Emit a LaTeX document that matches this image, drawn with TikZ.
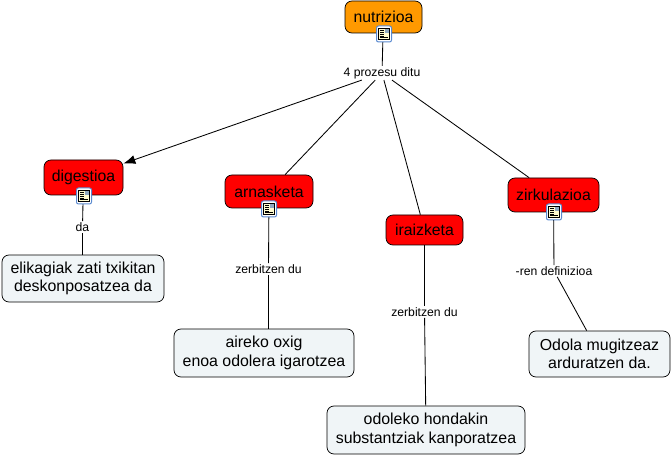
\documentclass[tikz,border=0pt]{standalone}
\usepackage{fontspec}
\setmainfont{Liberation Sans}
\usepackage{tikz}
\usetikzlibrary{arrows.meta,positioning}

\tikzset{
    concept/.style={draw=black,rounded corners=7pt,line width=0.7pt,align=center,
                    font=\fontsize{15.8}{18}\selectfont,inner sep=0pt},
    topconcept/.style={concept,fill=orange1},
    redconcept/.style={concept,fill=red1},
    textbox/.style={concept,fill=pale1,font=\fontsize{15.9}{18.5}\selectfont},
    linkword/.style={fill=white,font=\fontsize{12.2}{14}\selectfont,inner sep=1.2pt},
    link/.style={draw=black,line width=0.85pt},
    docicon/.pic={
        \draw[draw=blue1,fill=white,rounded corners=2pt,line width=1pt] (-7.5,-8) rectangle (7.5,8);
        \draw[fill=yellow1,line width=0.9pt] (-5.5,-5.5) rectangle (5.5,5.5);
        \fill[blue2] (0.5,-5) rectangle (5,-0.5);
        \foreach \y in {-3.5,-1.5,0.5,2.5}
            \draw[line width=0.6pt] (-4,\y) -- (0,\y);
        \draw[line width=0.6pt] (-4,3.8) -- (4,3.8);
    }
}
\definecolor{orange1}{HTML}{FF9900}
\definecolor{red1}{HTML}{FF0000}
\definecolor{pale1}{HTML}{F0F5F7}
\definecolor{blue1}{HTML}{5A8AD0}
\definecolor{blue2}{HTML}{8FA8C0}
\definecolor{yellow1}{HTML}{FFFBD0}

\begin{document}
\begin{tikzpicture}[x=1pt,y=-1pt]
    \useasboundingbox (0,0) rectangle (672,457);
    % concepts
    \node (nutrizioa) [topconcept,minimum width=77pt,minimum height=32pt] at (383.5,17) {nutrizioa};
    \node (digestioa) [redconcept,minimum width=79pt,minimum height=35pt] at (83.5,177.5) {digestioa};
    \node (arnasketa) [redconcept,minimum width=88pt,minimum height=33pt] at (269,191.5) {arnasketa};
    \node (iraizketa) [redconcept,minimum width=77pt,minimum height=30pt] at (424.5,230) {iraizketa};
    \node (zirkulazioa) [redconcept,minimum width=91pt,minimum height=34pt] at (553.5,195) {zirkulazioa};
    % text boxes
    \node (elikagiak) [textbox,minimum width=162pt,minimum height=47pt] at (83,278.5) {elikagiak zati txikitan\\deskonposatzea da};
    \node (aireko) [textbox,minimum width=180pt,minimum height=48pt] at (264,353) {aireko oxig\\enoa odolera igarotzea};
    \node (odoleko) [textbox,minimum width=198pt,minimum height=48pt] at (426,430) {odoleko hondakin\\substantziak kanporatzea};
    \node (odola) [textbox,minimum width=141pt,minimum height=46pt] at (599.5,354) {Odola mugitzeaz\\arduratzen da.};
    % linking words
    \node (prozesu) [linkword] at (382,73) {4 prozesu ditu};
    \node (da) [linkword] at (82.5,227) {da};
    \node (zerbitzenA) [linkword] at (268.5,269) {zerbitzen du};
    \node (zerbitzenB) [linkword] at (424.5,312) {zerbitzen du};
    \node (definizioa) [linkword] at (554,271) {-ren definizioa};
    % connectors
    \draw[link] (nutrizioa) -- (prozesu);
    \draw[link,-{Latex[length=12pt,width=9pt]}] (prozesu) -- (digestioa);
    \draw[link] (prozesu) -- (arnasketa);
    \draw[link] (prozesu) -- (iraizketa);
    \draw[link] (prozesu) -- (zirkulazioa);
    \draw[link] (digestioa) -- (da);
    \draw[link] (da) -- (elikagiak.north -| da);
    \draw[link] (arnasketa) -- (zerbitzenA);
    \draw[link] (zerbitzenA) -- (aireko.north -| zerbitzenA);
    \draw[link] (iraizketa) -- (zerbitzenB);
    \draw[link] (zerbitzenB) -- (odoleko);
    \draw[link] (zirkulazioa) -- (definizioa);
    \draw[link] (definizioa) -- (odola);
    % icons
    \pic at (384,34) {docicon};
    \pic at (84,196) {docicon};
    \pic at (269,209) {docicon};
    \pic at (554,212) {docicon};
\end{tikzpicture}
\end{document}
